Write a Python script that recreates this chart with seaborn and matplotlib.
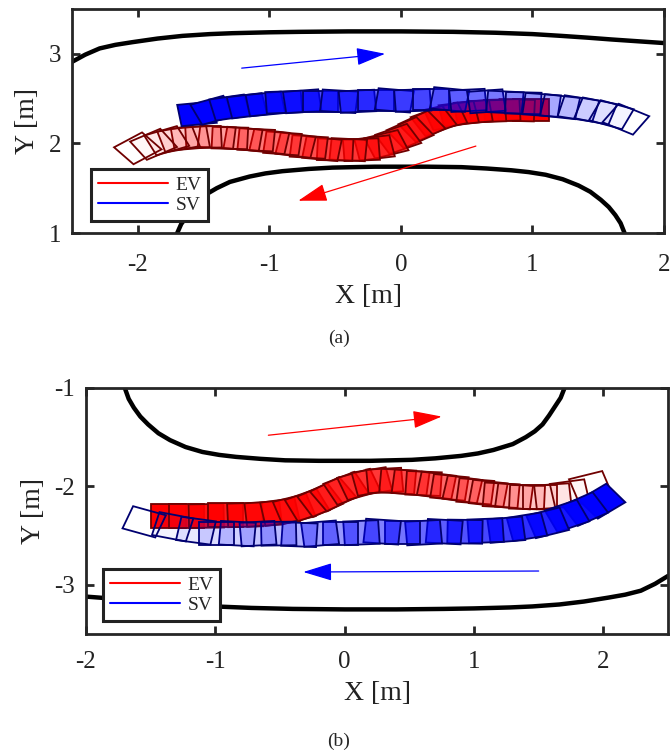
import numpy as np
import matplotlib
matplotlib.use("Agg")
import matplotlib.pyplot as plt
import seaborn as sns
from matplotlib.patches import Polygon
from matplotlib.lines import Line2D
from matplotlib.colors import to_rgba

# ---------------- data ----------------
# (a) road boundaries
a_outer_x = [-2.5, -2.40, -2.29, -2.17, -2.04, -1.85, -1.66, -1.45, -1.28, -1.0, -0.77, -0.4,
             0.0, 0.4, 0.72, 1.0, 1.22, 1.42, 1.60, 1.80, 2.0]
a_outer_y = [2.91, 2.99, 3.06, 3.10, 3.13, 3.17, 3.20, 3.22, 3.23, 3.24, 3.245, 3.25,
             3.25, 3.245, 3.235, 3.22, 3.20, 3.18, 3.16, 3.14, 3.12]
a_inner_x = [-1.70, -1.67, -1.63, -1.58, -1.53, -1.47, -1.40, -1.30, -1.15, -1.03, -0.90, -0.70,
             -0.52, -0.2, 0.2, 0.46, 0.65, 0.84, 0.97, 1.10, 1.23, 1.35, 1.44, 1.52, 1.58,
             1.63, 1.67, 1.70]
a_inner_y = [1.0, 1.10, 1.18, 1.28, 1.37, 1.44, 1.50, 1.57, 1.63, 1.665, 1.69, 1.715,
             1.73, 1.74, 1.74, 1.735, 1.72, 1.70, 1.68, 1.65, 1.60, 1.53, 1.46, 1.37, 1.29,
             1.20, 1.11, 1.0]

# (a) EV trajectory (start -> end)
a_ev_x = [0.99, 0.88, 0.77, 0.66, 0.55, 0.44, 0.34, 0.25, 0.16, 0.07, -0.02, -0.11, -0.20, -0.30,
          -0.40, -0.50, -0.60, -0.70, -0.80, -0.90, -1.00, -1.10, -1.20, -1.30, -1.40, -1.50,
          -1.60, -1.69, -1.78, -1.88, -2.00]
a_ev_y = [2.37, 2.37, 2.37, 2.36, 2.35, 2.33, 2.30, 2.25, 2.19, 2.12, 2.05, 1.99, 1.95, 1.93,
          1.93, 1.93, 1.94, 1.96, 1.98, 2.00, 2.02, 2.04, 2.05, 2.06, 2.07, 2.07,
          2.06, 2.05, 2.03, 1.99, 1.945]
a_ev_h = [180, 178, 182, 183, 187, 190, 198, 208, 214, 213, 207, 200, 190, 183,
          176, 178, 172, 175, 170, 174, 171, 176, 173, 178, 175, 182, 187, 195, 203, 212, 218]

# (a) SV trajectory (start -> end)
a_sv_x = [-1.55, -1.43, -1.30, -1.17, -1.03, -0.89, -0.75, -0.61, -0.47, -0.33, -0.19, -0.05,
          0.09, 0.23, 0.37, 0.51, 0.65, 0.79, 0.93, 1.07, 1.21, 1.35, 1.48, 1.60, 1.71]
a_sv_y = [2.33, 2.37, 2.40, 2.42, 2.44, 2.46, 2.47, 2.47, 2.47, 2.47, 2.48, 2.48,
          2.48, 2.49, 2.49, 2.48, 2.47, 2.46, 2.45, 2.43, 2.41, 2.39, 2.36, 2.32, 2.27]
a_sv_h = [8, 22, 12, 10, 8, 3, 6, 0, -5, 4, 0, -7, 3, 0, -8, 4, 6, -4, -2, -6, -9, -13, -16, -22, -31]

a_ev_arrow = [(0.57, 1.97), (-0.78, 1.36)]
a_sv_arrow = [(-1.21, 2.84), (-0.12, 3.0)]

# (b) road boundaries
b_upper_x = [-1.70, -1.67, -1.63, -1.58, -1.52, -1.44, -1.35, -1.23, -1.10, -0.97, -0.84, -0.65,
             -0.46, -0.2, 0.2, 0.52, 0.70, 0.90, 1.03, 1.15, 1.30, 1.40, 1.47, 1.53, 1.58,
             1.63, 1.67, 1.70]
b_upper_y = [-1.0, -1.11, -1.20, -1.29, -1.37, -1.46, -1.53, -1.60, -1.65, -1.68, -1.70, -1.72,
             -1.735, -1.74, -1.74, -1.73, -1.715, -1.69, -1.665, -1.63, -1.57, -1.50, -1.44,
             -1.37, -1.28, -1.18, -1.10, -1.0]
b_lower_x = [-2.0, -1.80, -1.60, -1.42, -1.22, -1.0, -0.72, -0.4, 0.0, 0.4, 0.77, 1.0, 1.28,
             1.45, 1.66, 1.85, 2.04, 2.17, 2.29, 2.40, 2.5]
b_lower_y = [-3.12, -3.14, -3.16, -3.18, -3.20, -3.22, -3.235, -3.245, -3.25, -3.25, -3.245,
             -3.24, -3.23, -3.22, -3.20, -3.17, -3.13, -3.10, -3.06, -2.99, -2.91]

# (b) EV trajectory (start -> end)
b_ev_x = [-1.36, -1.22, -1.07, -0.92, -0.77, -0.63, -0.50, -0.39, -0.29, -0.19, -0.09, 0.01,
          0.11, 0.21, 0.31, 0.41, 0.51, 0.61, 0.71, 0.81, 0.91, 1.01, 1.11, 1.21, 1.31, 1.41,
          1.51, 1.61, 1.74, 1.90]
b_ev_y = [-2.30, -2.30, -2.30, -2.29, -2.29, -2.28, -2.26, -2.23, -2.19, -2.14, -2.08, -2.02,
          -1.98, -1.95, -1.94, -1.95, -1.96, -1.97, -1.99, -2.01, -2.03, -2.05, -2.07, -2.09,
          -2.10, -2.11, -2.11, -2.10, -2.07, -2.00]
b_ev_h = [0, 0, 1, 0, 2, 5, 10, 18, 25, 30, 33, 27, 20, 12, 4, -4, -6, -3, -9, -7, -10, -6,
          -8, -4, -6, -2, 0, 5, 10, 18]

# (b) SV trajectory (start -> end)
b_sv_x = [1.99, 1.86, 1.72, 1.57, 1.41, 1.25, 1.09, 0.93, 0.77, 0.61, 0.45, 0.29, 0.13, -0.03,
          -0.19, -0.35, -0.51, -0.67, -0.83, -0.99, -1.15, -1.33, -1.55]
b_sv_y = [-2.15, -2.23, -2.30, -2.37, -2.41, -2.44, -2.45, -2.46, -2.46, -2.47, -2.47, -2.46,
          -2.47, -2.48, -2.48, -2.49, -2.48, -2.48, -2.48, -2.48, -2.45, -2.41, -2.36]
b_sv_h = [218, 210, 204, 198, 192, 186, 183, 179, 176, 184, 180, 175, 183, 180, 186, 177,
          181, 184, 176, 180, 170, 166, 160]

b_ev_arrow = [(-0.59, -1.48), (0.75, -1.29)]
b_sv_arrow = [(1.50, -2.86), (-0.32, -2.87)]

legend_labels = ["EV", "SV"]

# ---------------- style ----------------
sns.set_theme(style="white")
plt.rcParams["font.family"] = ["Liberation Serif", "DejaVu Serif"]
plt.rcParams["axes.unicode_minus"] = False

RED, BLUE = "#ff0000", "#0000ff"
RED_EDGE, BLUE_EDGE = "#700000", "#000070"
VEH_L, VEH_W = 0.27, 0.24
SPINE = "#262626"

fig = plt.figure(figsize=(6.71, 7.54), dpi=100)
ax_a = fig.add_axes([72 / 671, 1 - 233 / 754, 592 / 671, 224 / 754])
ax_b = fig.add_axes([86 / 671, 1 - 634 / 754, 582 / 671, 246 / 754])


def draw_boxes(ax, xs, ys, hs, color, edge, z):
    n = len(xs)
    alphas = np.linspace(1.0, 0.0, n)
    dx = np.array([VEH_L / 2, -VEH_L / 2, -VEH_L / 2, VEH_L / 2])
    dy = np.array([VEH_W / 2, VEH_W / 2, -VEH_W / 2, -VEH_W / 2])
    for x, y, h, a in zip(xs, ys, hs, alphas):
        t = np.deg2rad(h)
        c, s = np.cos(t), np.sin(t)
        px = x + dx * c - dy * s
        py = y + dx * s + dy * c
        ax.add_patch(Polygon(np.column_stack([px, py]), closed=True,
                             facecolor=to_rgba(color, a), edgecolor=edge,
                             linewidth=1.3, zorder=z))


def draw_arrow(ax, pts, color):
    ax.annotate("", xy=pts[1], xytext=pts[0],
                arrowprops=dict(arrowstyle="-|>,head_length=1.8,head_width=0.55",
                                color=color, lw=0.9, shrinkA=0, shrinkB=0,
                                mutation_scale=10), zorder=5)


def style_axes(ax, xlim, ylim, xticks, yticks, xpad, labelpad):
    ax.set_xlim(*xlim)
    ax.set_ylim(*ylim)
    ax.set_xticks(xticks)
    ax.set_yticks(yticks)
    ax.set_xticklabels([f"{t:g}" for t in xticks])
    ax.set_yticklabels([f"{t:g}" for t in yticks])
    for sp in ax.spines.values():
        sp.set_visible(True)
        sp.set_color(SPINE)
        sp.set_linewidth(2.0)
    ax.tick_params(direction="in", length=6, width=2, color=SPINE,
                   top=True, right=True, bottom=True, left=True,
                   labelsize=18, labelcolor="#222222")
    ax.tick_params(axis="x", pad=xpad)
    ax.tick_params(axis="y", pad=8)
    ax.set_xlabel("X [m]", fontsize=20, labelpad=labelpad, color="#222222")
    ax.set_ylabel("Y [m]", fontsize=20, labelpad=6, color="#222222")


def legend(ax, anchor):
    handles = [Line2D([0], [0], color=RED, lw=1.5), Line2D([0], [0], color=BLUE, lw=1.5)]
    leg = ax.legend(handles, legend_labels, loc="lower left", bbox_to_anchor=anchor,
                    borderaxespad=0, fontsize=14, handlelength=3.6, handletextpad=0.4,
                    labelspacing=0.15, borderpad=0.35, fancybox=False, framealpha=1)
    leg.get_frame().set_edgecolor("#222222")
    leg.get_frame().set_linewidth(2.2)
    leg.set_zorder(10)


# ---- (a) ----
sns.lineplot(x=a_outer_x, y=a_outer_y, sort=False, estimator=None, color="black", linewidth=3.2, ax=ax_a)
sns.lineplot(x=a_inner_x, y=a_inner_y, sort=False, estimator=None, color="black", linewidth=3.2, ax=ax_a)
draw_boxes(ax_a, a_ev_x, a_ev_y, a_ev_h, RED, RED_EDGE, 2)
draw_boxes(ax_a, a_sv_x, a_sv_y, a_sv_h, BLUE, BLUE_EDGE, 3)
draw_arrow(ax_a, a_ev_arrow, RED)
draw_arrow(ax_a, a_sv_arrow, BLUE)
style_axes(ax_a, (-2.5, 2.0), (1.0, 3.5), [-2, -1, 0, 1, 2], [1, 2, 3], xpad=15, labelpad=6)
legend(ax_a, (0.032, 0.054))

# ---- (b) ----
sns.lineplot(x=b_upper_x, y=b_upper_y, sort=False, estimator=None, color="black", linewidth=3.2, ax=ax_b)
sns.lineplot(x=b_lower_x, y=b_lower_y, sort=False, estimator=None, color="black", linewidth=3.2, ax=ax_b)
draw_boxes(ax_b, b_ev_x, b_ev_y, b_ev_h, RED, RED_EDGE, 2)
draw_boxes(ax_b, b_sv_x, b_sv_y, b_sv_h, BLUE, BLUE_EDGE, 3)
draw_arrow(ax_b, b_ev_arrow, RED)
draw_arrow(ax_b, b_sv_arrow, BLUE)
style_axes(ax_b, (-2.0, 2.5), (-3.5, -1.0), [-2, -1, 0, 1, 2], [-3, -2, -1], xpad=12, labelpad=6)
legend(ax_b, (0.029, 0.053))

fig.text(339 / 671, 1 - 338 / 754, "(a)", ha="center", va="center", fontsize=14)
fig.text(339 / 671, 1 - 741 / 754, "(b)", ha="center", va="center", fontsize=14)

fig.savefig("out.png", dpi=100, facecolor="white")
